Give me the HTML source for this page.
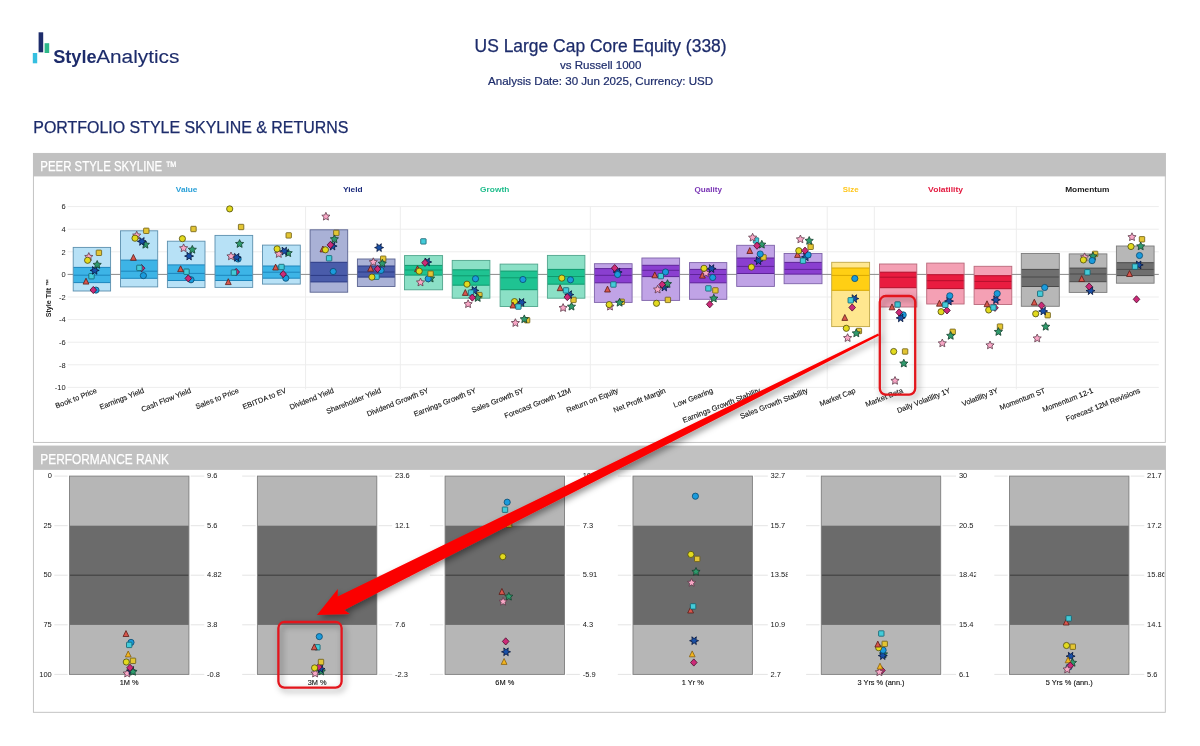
<!DOCTYPE html>
<html lang="en"><head><meta charset="utf-8"><title>Portfolio Style Skyline &amp; Returns</title>
<style>
html,body{margin:0;padding:0;background:#fff;}
body{width:1200px;height:746px;overflow:hidden;font-family:"Liberation Sans",sans-serif;}
svg{display:block;position:absolute;left:0;top:0;}
svg text{font-family:"Liberation Sans",sans-serif;}
.tk{font-size:7.5px;fill:#161616;}
.xl{font-size:7.4px;fill:#111;stroke:#111;stroke-width:0.12px;}
.cat{font-size:7.8px;font-weight:bold;}
.hd{font-size:14px;fill:#fff;}
</style></head><body>
<svg width="1200" height="746" viewBox="0 0 1200 746">
<defs>
<filter id="sh" x="-10%" y="-10%" width="130%" height="130%"><feDropShadow dx="2.5" dy="3" stdDeviation="3.2" flood-color="#000" flood-opacity="0.42"/></filter>
</defs>
<rect x="0" y="0" width="1200" height="746" fill="#fff"/>

<g id="logo">
<rect x="32.8" y="53" width="4.4" height="10.3" fill="#35bfe0"/>
<rect x="38.6" y="32.3" width="4.6" height="20" fill="#1d2c6b"/>
<rect x="44.6" y="43.2" width="4.6" height="9.8" fill="#2fb88a"/>
<text x="53.2" y="62.5" font-size="19.2" font-weight="bold" fill="#1d2c6b" textLength="43.4" lengthAdjust="spacingAndGlyphs">Style</text>
<text x="96.2" y="62.5" font-size="19.2" fill="#1d2c6b" stroke="#1d2c6b" stroke-width="0.12" textLength="83.2" lengthAdjust="spacingAndGlyphs">Analytics</text>
</g>
<text x="600.6" y="52" font-size="17.45" fill="#1d2c6b" stroke="#1d2c6b" stroke-width="0.25" text-anchor="middle">US Large Cap Core Equity (338)</text>
<text x="600.7" y="69.3" font-size="11.56" fill="#1d2c6b" stroke="#1d2c6b" stroke-width="0.2" text-anchor="middle">vs Russell 1000</text>
<text x="600.6" y="85.3" font-size="11.58" fill="#1d2c6b" stroke="#1d2c6b" stroke-width="0.2" text-anchor="middle">Analysis Date: 30 Jun 2025, Currency: USD</text>
<text x="33.3" y="133.3" font-size="15.95" fill="#1d2c6b" stroke="#1d2c6b" stroke-width="0.25">PORTFOLIO STYLE SKYLINE &amp; RETURNS</text>
<rect x="33.4" y="153.4" width="1131.8999999999999" height="289.0" fill="#fff" stroke="#bdbdbd" stroke-width="0.9"/>
<rect x="33" y="153.20000000000002" width="1132.8" height="23.2" fill="#c1c1c1"/>
<text class="hd" x="40.3" y="170.8" textLength="136.5" lengthAdjust="spacingAndGlyphs" stroke="#fff" stroke-width="0.25">PEER STYLE SKYLINE ™</text>
<rect x="33.4" y="446.1" width="1131.8999999999999" height="266.19999999999993" fill="#fff" stroke="#bdbdbd" stroke-width="0.9"/>
<rect x="33" y="445.90000000000003" width="1132.8" height="24" fill="#c1c1c1"/>
<text class="hd" x="40.3" y="463.5" textLength="128.7" lengthAdjust="spacingAndGlyphs" stroke="#fff" stroke-width="0.25">PERFORMANCE RANK</text>
<g id="grid" stroke="#ededed" stroke-width="1" fill="none">
<line x1="67.6" x2="1158.8" y1="206.6" y2="206.6"/>
<line x1="67.6" x2="1158.8" y1="229.2" y2="229.2"/>
<line x1="67.6" x2="1158.8" y1="251.8" y2="251.8"/>
<line x1="67.6" x2="1158.8" y1="297.0" y2="297.0"/>
<line x1="67.6" x2="1158.8" y1="319.6" y2="319.6"/>
<line x1="67.6" x2="1158.8" y1="342.2" y2="342.2"/>
<line x1="67.6" x2="1158.8" y1="364.8" y2="364.8"/>
<line x1="67.6" x2="1158.8" y1="387.4" y2="387.4"/>
<line x1="305.6" x2="305.6" y1="206.6" y2="389.4"/>
<line x1="400.3" x2="400.3" y1="206.6" y2="389.4"/>
<line x1="590.3" x2="590.3" y1="206.6" y2="389.4"/>
<line x1="827.2" x2="827.2" y1="206.6" y2="389.4"/>
<line x1="874.3" x2="874.3" y1="206.6" y2="389.4"/>
<line x1="1016.3" x2="1016.3" y1="206.6" y2="389.4"/>
</g>
<line x1="67.6" x2="1158.8" y1="274.4" y2="274.4" stroke="#8a8a8a" stroke-width="1"/>
<text class="tk" x="65.6" y="209.3" text-anchor="end">6</text>
<text class="tk" x="65.6" y="231.9" text-anchor="end">4</text>
<text class="tk" x="65.6" y="254.5" text-anchor="end">2</text>
<text class="tk" x="65.6" y="277.1" text-anchor="end">0</text>
<text class="tk" x="65.6" y="299.7" text-anchor="end">-2</text>
<text class="tk" x="65.6" y="322.3" text-anchor="end">-4</text>
<text class="tk" x="65.6" y="344.9" text-anchor="end">-6</text>
<text class="tk" x="65.6" y="367.5" text-anchor="end">-8</text>
<text class="tk" x="65.6" y="390.1" text-anchor="end">-10</text>
<text x="0" y="0" font-size="7.1" font-weight="bold" fill="#222" text-anchor="middle" transform="translate(51.4,298) rotate(-90)">Style Tilt ™</text>
<text class="cat" x="175.8" y="191.5" fill="#2aa0d8" textLength="21.7" lengthAdjust="spacingAndGlyphs">Value</text>
<text class="cat" x="343.0" y="191.5" fill="#1d2c7c" textLength="19.6" lengthAdjust="spacingAndGlyphs">Yield</text>
<text class="cat" x="480.1" y="191.5" fill="#1fbd8c" textLength="29.2" lengthAdjust="spacingAndGlyphs">Growth</text>
<text class="cat" x="694.5" y="191.5" fill="#7a35b5" textLength="27.5" lengthAdjust="spacingAndGlyphs">Quality</text>
<text class="cat" x="842.8" y="191.5" fill="#ffc61a" textLength="15.8" lengthAdjust="spacingAndGlyphs">Size</text>
<text class="cat" x="928.1" y="191.5" fill="#e3193f" textLength="35" lengthAdjust="spacingAndGlyphs">Volatility</text>
<text class="cat" x="1065.2" y="191.5" fill="#1a1a1a" textLength="44.3" lengthAdjust="spacingAndGlyphs">Momentum</text>
<g id="bars">
<rect x="73.2" y="247.4" width="37.4" height="43.6" fill="#b7e1f6"/>
<rect x="73.2" y="267.4" width="37.4" height="15.2" fill="#3db4e6"/>
<line x1="73.2" x2="110.6" y1="267.4" y2="267.4" stroke="#1c86bd" stroke-width="1"/>
<line x1="73.2" x2="110.6" y1="282.6" y2="282.6" stroke="#1c86bd" stroke-width="1"/>
<line x1="73.2" x2="110.6" y1="275.2" y2="275.2" stroke="#1c86bd" stroke-width="1"/>
<rect x="73.2" y="247.4" width="37.4" height="43.6" fill="none" stroke="#5b8fae" stroke-width="0.9"/>
<rect x="120.5" y="230.8" width="37.2" height="56.1" fill="#b7e1f6"/>
<rect x="120.5" y="260.1" width="37.2" height="18.2" fill="#3db4e6"/>
<line x1="120.5" x2="157.7" y1="260.1" y2="260.1" stroke="#1c86bd" stroke-width="1"/>
<line x1="120.5" x2="157.7" y1="278.3" y2="278.3" stroke="#1c86bd" stroke-width="1"/>
<line x1="120.5" x2="157.7" y1="271.2" y2="271.2" stroke="#1c86bd" stroke-width="1"/>
<rect x="120.5" y="230.8" width="37.2" height="56.1" fill="none" stroke="#5b8fae" stroke-width="0.9"/>
<rect x="167.4" y="241.2" width="37.6" height="46.4" fill="#b7e1f6"/>
<rect x="167.4" y="264.9" width="37.6" height="15.6" fill="#3db4e6"/>
<line x1="167.4" x2="205" y1="264.9" y2="264.9" stroke="#1c86bd" stroke-width="1"/>
<line x1="167.4" x2="205" y1="280.5" y2="280.5" stroke="#1c86bd" stroke-width="1"/>
<line x1="167.4" x2="205" y1="273.4" y2="273.4" stroke="#1c86bd" stroke-width="1"/>
<rect x="167.4" y="241.2" width="37.6" height="46.4" fill="none" stroke="#5b8fae" stroke-width="0.9"/>
<rect x="215" y="235.4" width="37.7" height="52.0" fill="#b7e1f6"/>
<rect x="215" y="266" width="37.7" height="14.5" fill="#3db4e6"/>
<line x1="215" x2="252.7" y1="266" y2="266" stroke="#1c86bd" stroke-width="1"/>
<line x1="215" x2="252.7" y1="280.5" y2="280.5" stroke="#1c86bd" stroke-width="1"/>
<line x1="215" x2="252.7" y1="275.3" y2="275.3" stroke="#1c86bd" stroke-width="1"/>
<rect x="215" y="235.4" width="37.7" height="52.0" fill="none" stroke="#5b8fae" stroke-width="0.9"/>
<rect x="262.5" y="245.1" width="37.8" height="39.0" fill="#b7e1f6"/>
<rect x="262.5" y="266" width="37.8" height="12.2" fill="#3db4e6"/>
<line x1="262.5" x2="300.3" y1="266" y2="266" stroke="#1c86bd" stroke-width="1"/>
<line x1="262.5" x2="300.3" y1="278.2" y2="278.2" stroke="#1c86bd" stroke-width="1"/>
<line x1="262.5" x2="300.3" y1="272.2" y2="272.2" stroke="#1c86bd" stroke-width="1"/>
<rect x="262.5" y="245.1" width="37.8" height="39.0" fill="none" stroke="#5b8fae" stroke-width="0.9"/>
<rect x="310.1" y="229.8" width="37.6" height="62.4" fill="#a9b1d6"/>
<rect x="310.1" y="262.3" width="37.6" height="19.6" fill="#4a5caa"/>
<line x1="310.1" x2="347.7" y1="262.3" y2="262.3" stroke="#2b3a85" stroke-width="1"/>
<line x1="310.1" x2="347.7" y1="281.9" y2="281.9" stroke="#2b3a85" stroke-width="1"/>
<line x1="310.1" x2="347.7" y1="275.4" y2="275.4" stroke="#2b3a85" stroke-width="1"/>
<rect x="310.1" y="229.8" width="37.6" height="62.4" fill="none" stroke="#5a6390" stroke-width="0.9"/>
<rect x="357.4" y="259" width="37.6" height="27.5" fill="#a9b1d6"/>
<rect x="357.4" y="266" width="37.6" height="11.1" fill="#4a5caa"/>
<line x1="357.4" x2="395" y1="266" y2="266" stroke="#2b3a85" stroke-width="1"/>
<line x1="357.4" x2="395" y1="277.1" y2="277.1" stroke="#2b3a85" stroke-width="1"/>
<line x1="357.4" x2="395" y1="272" y2="272" stroke="#2b3a85" stroke-width="1"/>
<rect x="357.4" y="259" width="37.6" height="27.5" fill="none" stroke="#5a6390" stroke-width="0.9"/>
<rect x="404.5" y="255.6" width="38.1" height="34.2" fill="#8be0c6"/>
<rect x="404.5" y="265.4" width="38.1" height="9.7" fill="#1fc392"/>
<line x1="404.5" x2="442.6" y1="265.4" y2="265.4" stroke="#0f9a6e" stroke-width="1"/>
<line x1="404.5" x2="442.6" y1="275.1" y2="275.1" stroke="#0f9a6e" stroke-width="1"/>
<line x1="404.5" x2="442.6" y1="270" y2="270" stroke="#0f9a6e" stroke-width="1"/>
<rect x="404.5" y="255.6" width="38.1" height="34.2" fill="none" stroke="#4fa58c" stroke-width="0.9"/>
<rect x="452.2" y="260.4" width="37.7" height="37.8" fill="#8be0c6"/>
<rect x="452.2" y="269.8" width="37.7" height="15.4" fill="#1fc392"/>
<line x1="452.2" x2="489.9" y1="269.8" y2="269.8" stroke="#0f9a6e" stroke-width="1"/>
<line x1="452.2" x2="489.9" y1="285.2" y2="285.2" stroke="#0f9a6e" stroke-width="1"/>
<line x1="452.2" x2="489.9" y1="275.8" y2="275.8" stroke="#0f9a6e" stroke-width="1"/>
<rect x="452.2" y="260.4" width="37.7" height="37.8" fill="none" stroke="#4fa58c" stroke-width="0.9"/>
<rect x="500.1" y="264.1" width="37.6" height="42.4" fill="#8be0c6"/>
<rect x="500.1" y="271.1" width="37.6" height="18.6" fill="#1fc392"/>
<line x1="500.1" x2="537.7" y1="271.1" y2="271.1" stroke="#0f9a6e" stroke-width="1"/>
<line x1="500.1" x2="537.7" y1="289.7" y2="289.7" stroke="#0f9a6e" stroke-width="1"/>
<line x1="500.1" x2="537.7" y1="277.8" y2="277.8" stroke="#0f9a6e" stroke-width="1"/>
<rect x="500.1" y="264.1" width="37.6" height="42.4" fill="none" stroke="#4fa58c" stroke-width="0.9"/>
<rect x="547.4" y="255.4" width="37.5" height="42.8" fill="#8be0c6"/>
<rect x="547.4" y="269.4" width="37.5" height="14.8" fill="#1fc392"/>
<line x1="547.4" x2="584.9" y1="269.4" y2="269.4" stroke="#0f9a6e" stroke-width="1"/>
<line x1="547.4" x2="584.9" y1="284.2" y2="284.2" stroke="#0f9a6e" stroke-width="1"/>
<line x1="547.4" x2="584.9" y1="276.5" y2="276.5" stroke="#0f9a6e" stroke-width="1"/>
<rect x="547.4" y="255.4" width="37.5" height="42.8" fill="none" stroke="#4fa58c" stroke-width="0.9"/>
<rect x="594.4" y="263.7" width="37.7" height="38.7" fill="#c0a3e6"/>
<rect x="594.4" y="268.6" width="37.7" height="14.2" fill="#8a3fd0"/>
<line x1="594.4" x2="632.1" y1="268.6" y2="268.6" stroke="#5e2399" stroke-width="1"/>
<line x1="594.4" x2="632.1" y1="282.8" y2="282.8" stroke="#5e2399" stroke-width="1"/>
<line x1="594.4" x2="632.1" y1="275.3" y2="275.3" stroke="#5e2399" stroke-width="1"/>
<rect x="594.4" y="263.7" width="37.7" height="38.7" fill="none" stroke="#7d62a8" stroke-width="0.9"/>
<rect x="641.9" y="258" width="37.7" height="42.4" fill="#c0a3e6"/>
<rect x="641.9" y="265.3" width="37.7" height="11.3" fill="#8a3fd0"/>
<line x1="641.9" x2="679.6" y1="265.3" y2="265.3" stroke="#5e2399" stroke-width="1"/>
<line x1="641.9" x2="679.6" y1="276.6" y2="276.6" stroke="#5e2399" stroke-width="1"/>
<line x1="641.9" x2="679.6" y1="270.3" y2="270.3" stroke="#5e2399" stroke-width="1"/>
<rect x="641.9" y="258" width="37.7" height="42.4" fill="none" stroke="#7d62a8" stroke-width="0.9"/>
<rect x="689.5" y="262.6" width="37.3" height="36.7" fill="#c0a3e6"/>
<rect x="689.5" y="269.4" width="37.3" height="13.4" fill="#8a3fd0"/>
<line x1="689.5" x2="726.8" y1="269.4" y2="269.4" stroke="#5e2399" stroke-width="1"/>
<line x1="689.5" x2="726.8" y1="282.8" y2="282.8" stroke="#5e2399" stroke-width="1"/>
<line x1="689.5" x2="726.8" y1="274.5" y2="274.5" stroke="#5e2399" stroke-width="1"/>
<rect x="689.5" y="262.6" width="37.3" height="36.7" fill="none" stroke="#7d62a8" stroke-width="0.9"/>
<rect x="736.7" y="245.3" width="37.7" height="41.1" fill="#c0a3e6"/>
<rect x="736.7" y="258" width="37.7" height="15.5" fill="#8a3fd0"/>
<line x1="736.7" x2="774.4" y1="258" y2="258" stroke="#5e2399" stroke-width="1"/>
<line x1="736.7" x2="774.4" y1="273.5" y2="273.5" stroke="#5e2399" stroke-width="1"/>
<line x1="736.7" x2="774.4" y1="266.4" y2="266.4" stroke="#5e2399" stroke-width="1"/>
<rect x="736.7" y="245.3" width="37.7" height="41.1" fill="none" stroke="#7d62a8" stroke-width="0.9"/>
<rect x="784.1" y="253.5" width="37.9" height="30.2" fill="#c0a3e6"/>
<rect x="784.1" y="262.4" width="37.9" height="11.7" fill="#8a3fd0"/>
<line x1="784.1" x2="822" y1="262.4" y2="262.4" stroke="#5e2399" stroke-width="1"/>
<line x1="784.1" x2="822" y1="274.1" y2="274.1" stroke="#5e2399" stroke-width="1"/>
<line x1="784.1" x2="822" y1="269.4" y2="269.4" stroke="#5e2399" stroke-width="1"/>
<rect x="784.1" y="253.5" width="37.9" height="30.2" fill="none" stroke="#7d62a8" stroke-width="0.9"/>
<rect x="831.7" y="262.3" width="37.9" height="64.3" fill="#ffe78f"/>
<rect x="831.7" y="268" width="37.9" height="22.3" fill="#ffcf14"/>
<line x1="831.7" x2="869.6" y1="268" y2="268" stroke="#d9a800" stroke-width="1"/>
<line x1="831.7" x2="869.6" y1="290.3" y2="290.3" stroke="#d9a800" stroke-width="1"/>
<line x1="831.7" x2="869.6" y1="275.4" y2="275.4" stroke="#d9a800" stroke-width="1"/>
<rect x="831.7" y="262.3" width="37.9" height="64.3" fill="none" stroke="#bfa646" stroke-width="0.9"/>
<rect x="879.5" y="264" width="37.3" height="43.0" fill="#f4a0b4"/>
<rect x="879.5" y="272.2" width="37.3" height="15.5" fill="#e91c40"/>
<line x1="879.5" x2="916.8" y1="272.2" y2="272.2" stroke="#b30f2c" stroke-width="1"/>
<line x1="879.5" x2="916.8" y1="287.7" y2="287.7" stroke="#b30f2c" stroke-width="1"/>
<line x1="879.5" x2="916.8" y1="277.2" y2="277.2" stroke="#b30f2c" stroke-width="1"/>
<rect x="879.5" y="264" width="37.3" height="43.0" fill="none" stroke="#b8687a" stroke-width="0.9"/>
<rect x="926.7" y="263.1" width="37.4" height="40.9" fill="#f4a0b4"/>
<rect x="926.7" y="274.7" width="37.4" height="13.9" fill="#e91c40"/>
<line x1="926.7" x2="964.1" y1="274.7" y2="274.7" stroke="#b30f2c" stroke-width="1"/>
<line x1="926.7" x2="964.1" y1="288.6" y2="288.6" stroke="#b30f2c" stroke-width="1"/>
<line x1="926.7" x2="964.1" y1="280.7" y2="280.7" stroke="#b30f2c" stroke-width="1"/>
<rect x="926.7" y="263.1" width="37.4" height="40.9" fill="none" stroke="#b8687a" stroke-width="0.9"/>
<rect x="974.1" y="266.3" width="37.7" height="38.2" fill="#f4a0b4"/>
<rect x="974.1" y="275.7" width="37.7" height="13.0" fill="#e91c40"/>
<line x1="974.1" x2="1011.8" y1="275.7" y2="275.7" stroke="#b30f2c" stroke-width="1"/>
<line x1="974.1" x2="1011.8" y1="288.7" y2="288.7" stroke="#b30f2c" stroke-width="1"/>
<line x1="974.1" x2="1011.8" y1="281.4" y2="281.4" stroke="#b30f2c" stroke-width="1"/>
<rect x="974.1" y="266.3" width="37.7" height="38.2" fill="none" stroke="#b8687a" stroke-width="0.9"/>
<rect x="1021.3" y="253.5" width="38.0" height="52.8" fill="#b7b7b7"/>
<rect x="1021.3" y="269.4" width="38.0" height="17.1" fill="#6f6f6f"/>
<line x1="1021.3" x2="1059.3" y1="269.4" y2="269.4" stroke="#4a4a4a" stroke-width="1"/>
<line x1="1021.3" x2="1059.3" y1="286.5" y2="286.5" stroke="#4a4a4a" stroke-width="1"/>
<line x1="1021.3" x2="1059.3" y1="277" y2="277" stroke="#4a4a4a" stroke-width="1"/>
<rect x="1021.3" y="253.5" width="38.0" height="52.8" fill="none" stroke="#7c7c7c" stroke-width="0.9"/>
<rect x="1069.2" y="253.9" width="37.7" height="38.5" fill="#b7b7b7"/>
<rect x="1069.2" y="268.1" width="37.7" height="13.6" fill="#6f6f6f"/>
<line x1="1069.2" x2="1106.9" y1="268.1" y2="268.1" stroke="#4a4a4a" stroke-width="1"/>
<line x1="1069.2" x2="1106.9" y1="281.7" y2="281.7" stroke="#4a4a4a" stroke-width="1"/>
<line x1="1069.2" x2="1106.9" y1="274" y2="274" stroke="#4a4a4a" stroke-width="1"/>
<rect x="1069.2" y="253.9" width="37.7" height="38.5" fill="none" stroke="#7c7c7c" stroke-width="0.9"/>
<rect x="1116.4" y="246" width="37.7" height="37.2" fill="#b7b7b7"/>
<rect x="1116.4" y="262.7" width="37.7" height="12.9" fill="#6f6f6f"/>
<line x1="1116.4" x2="1154.1" y1="262.7" y2="262.7" stroke="#4a4a4a" stroke-width="1"/>
<line x1="1116.4" x2="1154.1" y1="275.6" y2="275.6" stroke="#4a4a4a" stroke-width="1"/>
<line x1="1116.4" x2="1154.1" y1="269.4" y2="269.4" stroke="#4a4a4a" stroke-width="1"/>
<rect x="1116.4" y="246" width="37.7" height="37.2" fill="none" stroke="#7c7c7c" stroke-width="0.9"/>
</g>
<g id="xlabels">
<text class="xl" text-anchor="end" transform="translate(97.4,392.5) rotate(-21.5)">Book to Price</text>
<text class="xl" text-anchor="end" transform="translate(144.6,392.5) rotate(-21.5)">Earnings Yield</text>
<text class="xl" text-anchor="end" transform="translate(191.7,392.5) rotate(-21.5)">Cash Flow Yield</text>
<text class="xl" text-anchor="end" transform="translate(239.3,392.5) rotate(-21.5)">Sales to Price</text>
<text class="xl" text-anchor="end" transform="translate(286.9,392.5) rotate(-21.5)">EBITDA to EV</text>
<text class="xl" text-anchor="end" transform="translate(334.4,392.5) rotate(-21.5)">Dividend Yield</text>
<text class="xl" text-anchor="end" transform="translate(381.7,392.5) rotate(-21.5)">Shareholder Yield</text>
<text class="xl" text-anchor="end" transform="translate(429.1,392.5) rotate(-21.5)">Dividend Growth 5Y</text>
<text class="xl" text-anchor="end" transform="translate(476.5,392.5) rotate(-21.5)">Earnings Growth 5Y</text>
<text class="xl" text-anchor="end" transform="translate(524.4,392.5) rotate(-21.5)">Sales Growth 5Y</text>
<text class="xl" text-anchor="end" transform="translate(571.6,392.5) rotate(-21.5)">Forecast Growth 12M</text>
<text class="xl" text-anchor="end" transform="translate(618.8,392.5) rotate(-21.5)">Return on Equity</text>
<text class="xl" text-anchor="end" transform="translate(666.2,392.5) rotate(-21.5)">Net Profit Margin</text>
<text class="xl" text-anchor="end" transform="translate(713.6,392.5) rotate(-21.5)">Low Gearing</text>
<text class="xl" text-anchor="end" transform="translate(761.0,392.5) rotate(-21.5)">Earnings Growth Stability</text>
<text class="xl" text-anchor="end" transform="translate(808.5,392.5) rotate(-21.5)">Sales Growth Stability</text>
<text class="xl" text-anchor="end" transform="translate(856.2,392.5) rotate(-21.5)">Market Cap</text>
<text class="xl" text-anchor="end" transform="translate(903.6,392.5) rotate(-21.5)">Market Beta</text>
<text class="xl" text-anchor="end" transform="translate(950.9,392.5) rotate(-21.5)">Daily Volatility 1Y</text>
<text class="xl" text-anchor="end" transform="translate(998.5,392.5) rotate(-21.5)">Volatility 3Y</text>
<text class="xl" text-anchor="end" transform="translate(1045.8,392.5) rotate(-21.5)">Momentum ST</text>
<text class="xl" text-anchor="end" transform="translate(1093.6,392.5) rotate(-21.5)">Momentum 12-1</text>
<text class="xl" text-anchor="end" transform="translate(1140.8,392.5) rotate(-21.5)">Forecast 12M Revisions</text>
</g>
<g id="markers">
<circle cx="96" cy="290.1" r="3.1" fill="#1a9bdc" stroke="#0b4a6e" stroke-width="0.8"/>
<polygon points="93.30,286.40 96.60,290.00 93.30,293.60 90.00,290.00" fill="#cc2a78" stroke="#4a0a2a" stroke-width="0.8" stroke-linejoin="round"/>
<polygon points="86.00,278.20 88.90,284.10 83.10,284.10" fill="#d9564c" stroke="#5a1c18" stroke-width="0.8" stroke-linejoin="round"/>
<rect x="88.80" y="273.50" width="5.4" height="5.4" rx="0.6" fill="#43cbd9" stroke="#14606c" stroke-width="0.8"/>
<polygon points="99.20,270.40 96.52,271.45 96.95,274.30 94.70,272.50 92.45,274.30 92.88,271.45 90.20,270.40 92.88,269.35 92.45,266.50 94.70,268.30 96.95,266.50 96.52,269.35" fill="#1850a8" stroke="#06143a" stroke-width="0.8"/>
<polygon points="97.20,260.50 98.40,263.14 101.29,263.47 99.15,265.43 99.73,268.28 97.20,266.85 94.67,268.28 95.25,265.43 93.11,263.47 96.00,263.14" fill="#2f9a6c" stroke="#143f2c" stroke-width="0.8"/>
<polygon points="88.80,252.60 90.00,255.24 92.89,255.57 90.75,257.53 91.33,260.38 88.80,258.95 86.27,260.38 86.85,257.53 84.71,255.57 87.60,255.24" fill="#f8a7c6" stroke="#5e3a4a" stroke-width="0.8"/>
<circle cx="87.6" cy="260.3" r="3.1" fill="#e2da1e" stroke="#4c4a0e" stroke-width="0.8"/>
<rect x="96.20" y="250.10" width="5.4" height="5.4" rx="0.6" fill="#e3c534" stroke="#6b5c14" stroke-width="0.8"/>
<circle cx="143.4" cy="275.6" r="3.1" fill="#1a9bdc" stroke="#0b4a6e" stroke-width="0.8"/>
<polygon points="141.60,264.60 144.90,268.20 141.60,271.80 138.30,268.20" fill="#cc2a78" stroke="#4a0a2a" stroke-width="0.8" stroke-linejoin="round"/>
<rect x="136.70" y="265.20" width="5.4" height="5.4" rx="0.6" fill="#43cbd9" stroke="#14606c" stroke-width="0.8"/>
<polygon points="133.40,254.40 136.30,260.30 130.50,260.30" fill="#d9564c" stroke="#5a1c18" stroke-width="0.8" stroke-linejoin="round"/>
<polygon points="145.40,240.40 146.60,243.04 149.49,243.37 147.35,245.33 147.93,248.18 145.40,246.75 142.87,248.18 143.45,245.33 141.31,243.37 144.20,243.04" fill="#2f9a6c" stroke="#143f2c" stroke-width="0.8"/>
<polygon points="146.40,241.40 143.72,242.45 144.15,245.30 141.90,243.50 139.65,245.30 140.08,242.45 137.40,241.40 140.08,240.35 139.65,237.50 141.90,239.30 144.15,237.50 143.72,240.35" fill="#1850a8" stroke="#06143a" stroke-width="0.8"/>
<polygon points="136.70,231.20 137.90,233.84 140.79,234.17 138.65,236.13 139.23,238.98 136.70,237.55 134.17,238.98 134.75,236.13 132.61,234.17 135.50,233.84" fill="#f8a7c6" stroke="#5e3a4a" stroke-width="0.8"/>
<circle cx="135" cy="238.2" r="3.1" fill="#e2da1e" stroke="#4c4a0e" stroke-width="0.8"/>
<rect x="143.60" y="228.10" width="5.4" height="5.4" rx="0.6" fill="#e3c534" stroke="#6b5c14" stroke-width="0.8"/>
<circle cx="191" cy="279.8" r="3.1" fill="#1a9bdc" stroke="#0b4a6e" stroke-width="0.8"/>
<polygon points="188.30,274.80 191.60,278.40 188.30,282.00 185.00,278.40" fill="#cc2a78" stroke="#4a0a2a" stroke-width="0.8" stroke-linejoin="round"/>
<rect x="183.80" y="269.00" width="5.4" height="5.4" rx="0.6" fill="#43cbd9" stroke="#14606c" stroke-width="0.8"/>
<polygon points="180.60,265.80 183.50,271.70 177.70,271.70" fill="#d9564c" stroke="#5a1c18" stroke-width="0.8" stroke-linejoin="round"/>
<polygon points="193.60,256.10 190.92,257.15 191.35,260.00 189.10,258.20 186.85,260.00 187.28,257.15 184.60,256.10 187.28,255.05 186.85,252.20 189.10,254.00 191.35,252.20 190.92,255.05" fill="#1850a8" stroke="#06143a" stroke-width="0.8"/>
<polygon points="192.30,245.40 193.50,248.04 196.39,248.37 194.25,250.33 194.83,253.18 192.30,251.75 189.77,253.18 190.35,250.33 188.21,248.37 191.10,248.04" fill="#2f9a6c" stroke="#143f2c" stroke-width="0.8"/>
<polygon points="183.60,243.90 184.80,246.54 187.69,246.87 185.55,248.83 186.13,251.68 183.60,250.25 181.07,251.68 181.65,248.83 179.51,246.87 182.40,246.54" fill="#f8a7c6" stroke="#5e3a4a" stroke-width="0.8"/>
<circle cx="182.4" cy="238.7" r="3.1" fill="#e2da1e" stroke="#4c4a0e" stroke-width="0.8"/>
<rect x="190.80" y="226.30" width="5.4" height="5.4" rx="0.6" fill="#e3c534" stroke="#6b5c14" stroke-width="0.8"/>
<polygon points="228.30,278.70 231.20,284.60 225.40,284.60" fill="#d9564c" stroke="#5a1c18" stroke-width="0.8" stroke-linejoin="round"/>
<polygon points="236.20,268.40 239.50,272.00 236.20,275.60 232.90,272.00" fill="#cc2a78" stroke="#4a0a2a" stroke-width="0.8" stroke-linejoin="round"/>
<rect x="231.20" y="269.90" width="5.4" height="5.4" rx="0.6" fill="#43cbd9" stroke="#14606c" stroke-width="0.8"/>
<circle cx="238.1" cy="259" r="3.1" fill="#1a9bdc" stroke="#0b4a6e" stroke-width="0.8"/>
<polygon points="241.20,257.30 238.52,258.35 238.95,261.20 236.70,259.40 234.45,261.20 234.88,258.35 232.20,257.30 234.88,256.25 234.45,253.40 236.70,255.20 238.95,253.40 238.52,256.25" fill="#1850a8" stroke="#06143a" stroke-width="0.8"/>
<polygon points="231.00,252.00 232.20,254.64 235.09,254.97 232.95,256.93 233.53,259.78 231.00,258.35 228.47,259.78 229.05,256.93 226.91,254.97 229.80,254.64" fill="#f8a7c6" stroke="#5e3a4a" stroke-width="0.8"/>
<polygon points="239.60,239.60 240.80,242.24 243.69,242.57 241.55,244.53 242.13,247.38 239.60,245.95 237.07,247.38 237.65,244.53 235.51,242.57 238.40,242.24" fill="#2f9a6c" stroke="#143f2c" stroke-width="0.8"/>
<rect x="238.40" y="224.30" width="5.4" height="5.4" rx="0.6" fill="#e3c534" stroke="#6b5c14" stroke-width="0.8"/>
<circle cx="229.7" cy="208.9" r="3.1" fill="#e2da1e" stroke="#4c4a0e" stroke-width="0.8"/>
<circle cx="285.8" cy="278.2" r="3.1" fill="#1a9bdc" stroke="#0b4a6e" stroke-width="0.8"/>
<polygon points="283.20,270.50 286.50,274.10 283.20,277.70 279.90,274.10" fill="#cc2a78" stroke="#4a0a2a" stroke-width="0.8" stroke-linejoin="round"/>
<polygon points="275.60,264.10 278.50,270.00 272.70,270.00" fill="#d9564c" stroke="#5a1c18" stroke-width="0.8" stroke-linejoin="round"/>
<rect x="278.80" y="264.30" width="5.4" height="5.4" rx="0.6" fill="#43cbd9" stroke="#14606c" stroke-width="0.8"/>
<polygon points="288.20,248.80 289.40,251.44 292.29,251.77 290.15,253.73 290.73,256.58 288.20,255.15 285.67,256.58 286.25,253.73 284.11,251.77 287.00,251.44" fill="#2f9a6c" stroke="#143f2c" stroke-width="0.8"/>
<polygon points="288.80,251.10 286.12,252.15 286.55,255.00 284.30,253.20 282.05,255.00 282.48,252.15 279.80,251.10 282.48,250.05 282.05,247.20 284.30,249.00 286.55,247.20 286.12,250.05" fill="#1850a8" stroke="#06143a" stroke-width="0.8"/>
<polygon points="278.80,249.60 280.00,252.24 282.89,252.57 280.75,254.53 281.33,257.38 278.80,255.95 276.27,257.38 276.85,254.53 274.71,252.57 277.60,252.24" fill="#f8a7c6" stroke="#5e3a4a" stroke-width="0.8"/>
<circle cx="277.1" cy="248.9" r="3.1" fill="#e2da1e" stroke="#4c4a0e" stroke-width="0.8"/>
<rect x="286.00" y="232.70" width="5.4" height="5.4" rx="0.6" fill="#e3c534" stroke="#6b5c14" stroke-width="0.8"/>
<circle cx="333.2" cy="271.5" r="3.1" fill="#1a9bdc" stroke="#0b4a6e" stroke-width="0.8"/>
<rect x="326.40" y="255.60" width="5.4" height="5.4" rx="0.6" fill="#43cbd9" stroke="#14606c" stroke-width="0.8"/>
<polygon points="322.90,246.00 325.80,251.90 320.00,251.90" fill="#d9564c" stroke="#5a1c18" stroke-width="0.8" stroke-linejoin="round"/>
<circle cx="325.4" cy="249.8" r="3.1" fill="#e2da1e" stroke="#4c4a0e" stroke-width="0.8"/>
<polygon points="337.10,246.10 334.42,247.15 334.85,250.00 332.60,248.20 330.35,250.00 330.78,247.15 328.10,246.10 330.78,245.05 330.35,242.20 332.60,244.00 334.85,242.20 334.42,245.05" fill="#1850a8" stroke="#06143a" stroke-width="0.8"/>
<polygon points="330.40,241.30 333.70,244.90 330.40,248.50 327.10,244.90" fill="#cc2a78" stroke="#4a0a2a" stroke-width="0.8" stroke-linejoin="round"/>
<rect x="333.60" y="230.20" width="5.4" height="5.4" rx="0.6" fill="#e3c534" stroke="#6b5c14" stroke-width="0.8"/>
<polygon points="334.40,234.90 335.60,237.54 338.49,237.87 336.35,239.83 336.93,242.68 334.40,241.25 331.87,242.68 332.45,239.83 330.31,237.87 333.20,237.54" fill="#2f9a6c" stroke="#143f2c" stroke-width="0.8"/>
<polygon points="325.90,212.30 327.10,214.94 329.99,215.27 327.85,217.23 328.43,220.08 325.90,218.65 323.37,220.08 323.95,217.23 321.81,215.27 324.70,214.94" fill="#f8a7c6" stroke="#5e3a4a" stroke-width="0.8"/>
<rect x="373.80" y="274.00" width="5.4" height="5.4" rx="0.6" fill="#43cbd9" stroke="#14606c" stroke-width="0.8"/>
<circle cx="371.9" cy="277.1" r="3.1" fill="#e2da1e" stroke="#4c4a0e" stroke-width="0.8"/>
<circle cx="381" cy="270.4" r="3.1" fill="#1a9bdc" stroke="#0b4a6e" stroke-width="0.8"/>
<polygon points="370.60,265.30 373.50,271.20 367.70,271.20" fill="#d9564c" stroke="#5a1c18" stroke-width="0.8" stroke-linejoin="round"/>
<polygon points="377.60,265.40 380.90,269.00 377.60,272.60 374.30,269.00" fill="#cc2a78" stroke="#4a0a2a" stroke-width="0.8" stroke-linejoin="round"/>
<rect x="380.50" y="256.00" width="5.4" height="5.4" rx="0.6" fill="#e3c534" stroke="#6b5c14" stroke-width="0.8"/>
<polygon points="382.30,259.30 383.50,261.94 386.39,262.27 384.25,264.23 384.83,267.08 382.30,265.65 379.77,267.08 380.35,264.23 378.21,262.27 381.10,261.94" fill="#2f9a6c" stroke="#143f2c" stroke-width="0.8"/>
<polygon points="373.30,257.80 374.50,260.44 377.39,260.77 375.25,262.73 375.83,265.58 373.30,264.15 370.77,265.58 371.35,262.73 369.21,260.77 372.10,260.44" fill="#f8a7c6" stroke="#5e3a4a" stroke-width="0.8"/>
<polygon points="383.60,247.60 380.92,248.65 381.35,251.50 379.10,249.70 376.85,251.50 377.28,248.65 374.60,247.60 377.28,246.55 376.85,243.70 379.10,245.50 381.35,243.70 380.92,246.55" fill="#1850a8" stroke="#06143a" stroke-width="0.8"/>
<polygon points="420.50,278.10 421.70,280.74 424.59,281.07 422.45,283.03 423.03,285.88 420.50,284.45 417.97,285.88 418.55,283.03 416.41,281.07 419.30,280.74" fill="#f8a7c6" stroke="#5e3a4a" stroke-width="0.8"/>
<polygon points="430.60,274.20 431.80,276.84 434.69,277.17 432.55,279.13 433.13,281.98 430.60,280.55 428.07,281.98 428.65,279.13 426.51,277.17 429.40,276.84" fill="#2f9a6c" stroke="#143f2c" stroke-width="0.8"/>
<circle cx="428.2" cy="278.8" r="3.1" fill="#1a9bdc" stroke="#0b4a6e" stroke-width="0.8"/>
<rect x="427.90" y="271.00" width="5.4" height="5.4" rx="0.6" fill="#e3c534" stroke="#6b5c14" stroke-width="0.8"/>
<polygon points="417.50,265.80 420.40,271.70 414.60,271.70" fill="#d9564c" stroke="#5a1c18" stroke-width="0.8" stroke-linejoin="round"/>
<circle cx="419.2" cy="271.2" r="3.1" fill="#e2da1e" stroke="#4c4a0e" stroke-width="0.8"/>
<polygon points="431.70,262.00 429.02,263.05 429.45,265.90 427.20,264.10 424.95,265.90 425.38,263.05 422.70,262.00 425.38,260.95 424.95,258.10 427.20,259.90 429.45,258.10 429.02,260.95" fill="#1850a8" stroke="#06143a" stroke-width="0.8"/>
<polygon points="425.00,259.20 428.30,262.80 425.00,266.40 421.70,262.80" fill="#cc2a78" stroke="#4a0a2a" stroke-width="0.8" stroke-linejoin="round"/>
<rect x="420.70" y="238.70" width="5.4" height="5.4" rx="0.6" fill="#43cbd9" stroke="#14606c" stroke-width="0.8"/>
<polygon points="468.10,299.80 469.30,302.44 472.19,302.77 470.05,304.73 470.63,307.58 468.10,306.15 465.57,307.58 466.15,304.73 464.01,302.77 466.90,302.44" fill="#f8a7c6" stroke="#5e3a4a" stroke-width="0.8"/>
<rect x="476.70" y="292.40" width="5.4" height="5.4" rx="0.6" fill="#e3c534" stroke="#6b5c14" stroke-width="0.8"/>
<polygon points="477.70,293.60 478.90,296.24 481.79,296.57 479.65,298.53 480.23,301.38 477.70,299.95 475.17,301.38 475.75,298.53 473.61,296.57 476.50,296.24" fill="#2f9a6c" stroke="#143f2c" stroke-width="0.8"/>
<polygon points="478.80,290.40 476.12,291.45 476.55,294.30 474.30,292.50 472.05,294.30 472.48,291.45 469.80,290.40 472.48,289.35 472.05,286.50 474.30,288.30 476.55,286.50 476.12,289.35" fill="#1850a8" stroke="#06143a" stroke-width="0.8"/>
<polygon points="465.30,289.50 468.20,295.40 462.40,295.40" fill="#d9564c" stroke="#5a1c18" stroke-width="0.8" stroke-linejoin="round"/>
<rect x="468.30" y="289.90" width="5.4" height="5.4" rx="0.6" fill="#43cbd9" stroke="#14606c" stroke-width="0.8"/>
<polygon points="472.30,294.00 475.60,297.60 472.30,301.20 469.00,297.60" fill="#cc2a78" stroke="#4a0a2a" stroke-width="0.8" stroke-linejoin="round"/>
<circle cx="467" cy="284.2" r="3.1" fill="#e2da1e" stroke="#4c4a0e" stroke-width="0.8"/>
<circle cx="475.5" cy="278.8" r="3.1" fill="#1a9bdc" stroke="#0b4a6e" stroke-width="0.8"/>
<polygon points="515.40,318.70 516.60,321.34 519.49,321.67 517.35,323.63 517.93,326.48 515.40,325.05 512.87,326.48 513.45,323.63 511.31,321.67 514.20,321.34" fill="#f8a7c6" stroke="#5e3a4a" stroke-width="0.8"/>
<rect x="524.40" y="317.50" width="5.4" height="5.4" rx="0.6" fill="#e3c534" stroke="#6b5c14" stroke-width="0.8"/>
<polygon points="524.30,314.90 525.50,317.54 528.39,317.87 526.25,319.83 526.83,322.68 524.30,321.25 521.77,322.68 522.35,319.83 520.21,317.87 523.10,317.54" fill="#2f9a6c" stroke="#143f2c" stroke-width="0.8"/>
<polygon points="520.00,300.20 523.30,303.80 520.00,307.40 516.70,303.80" fill="#cc2a78" stroke="#4a0a2a" stroke-width="0.8" stroke-linejoin="round"/>
<polygon points="526.10,302.40 523.42,303.45 523.85,306.30 521.60,304.50 519.35,306.30 519.78,303.45 517.10,302.40 519.78,301.35 519.35,298.50 521.60,300.30 523.85,298.50 523.42,301.35" fill="#1850a8" stroke="#06143a" stroke-width="0.8"/>
<circle cx="514.5" cy="301.6" r="3.1" fill="#e2da1e" stroke="#4c4a0e" stroke-width="0.8"/>
<polygon points="512.90,302.10 515.80,308.00 510.00,308.00" fill="#d9564c" stroke="#5a1c18" stroke-width="0.8" stroke-linejoin="round"/>
<rect x="515.70" y="303.90" width="5.4" height="5.4" rx="0.6" fill="#43cbd9" stroke="#14606c" stroke-width="0.8"/>
<circle cx="522.9" cy="279.5" r="3.1" fill="#1a9bdc" stroke="#0b4a6e" stroke-width="0.8"/>
<polygon points="563.10,303.60 564.30,306.24 567.19,306.57 565.05,308.53 565.63,311.38 563.10,309.95 560.57,311.38 561.15,308.53 559.01,306.57 561.90,306.24" fill="#f8a7c6" stroke="#5e3a4a" stroke-width="0.8"/>
<polygon points="571.50,302.30 572.70,304.94 575.59,305.27 573.45,307.23 574.03,310.08 571.50,308.65 568.97,310.08 569.55,307.23 567.41,305.27 570.30,304.94" fill="#2f9a6c" stroke="#143f2c" stroke-width="0.8"/>
<rect x="570.80" y="297.20" width="5.4" height="5.4" rx="0.6" fill="#e3c534" stroke="#6b5c14" stroke-width="0.8"/>
<polygon points="573.80,294.60 571.12,295.65 571.55,298.50 569.30,296.70 567.05,298.50 567.48,295.65 564.80,294.60 567.48,293.55 567.05,290.70 569.30,292.50 571.55,290.70 571.12,293.55" fill="#1850a8" stroke="#06143a" stroke-width="0.8"/>
<polygon points="567.30,293.50 570.60,297.10 567.30,300.70 564.00,297.10" fill="#cc2a78" stroke="#4a0a2a" stroke-width="0.8" stroke-linejoin="round"/>
<polygon points="560.10,284.80 563.00,290.70 557.20,290.70" fill="#d9564c" stroke="#5a1c18" stroke-width="0.8" stroke-linejoin="round"/>
<rect x="563.30" y="287.70" width="5.4" height="5.4" rx="0.6" fill="#43cbd9" stroke="#14606c" stroke-width="0.8"/>
<circle cx="570.5" cy="279.8" r="3.1" fill="#1a9bdc" stroke="#0b4a6e" stroke-width="0.8"/>
<circle cx="561.8" cy="278.1" r="3.1" fill="#e2da1e" stroke="#4c4a0e" stroke-width="0.8"/>
<polygon points="610.00,302.30 611.20,304.94 614.09,305.27 611.95,307.23 612.53,310.08 610.00,308.65 607.47,310.08 608.05,307.23 605.91,305.27 608.80,304.94" fill="#f8a7c6" stroke="#5e3a4a" stroke-width="0.8"/>
<circle cx="609.2" cy="304.6" r="3.1" fill="#e2da1e" stroke="#4c4a0e" stroke-width="0.8"/>
<rect x="619.00" y="299.10" width="5.4" height="5.4" rx="0.6" fill="#e3c534" stroke="#6b5c14" stroke-width="0.8"/>
<polygon points="619.60,298.40 620.80,301.04 623.69,301.37 621.55,303.33 622.13,306.18 619.60,304.75 617.07,306.18 617.65,303.33 615.51,301.37 618.40,301.04" fill="#2f9a6c" stroke="#143f2c" stroke-width="0.8"/>
<polygon points="607.50,286.10 610.40,292.00 604.60,292.00" fill="#d9564c" stroke="#5a1c18" stroke-width="0.8" stroke-linejoin="round"/>
<rect x="610.70" y="281.80" width="5.4" height="5.4" rx="0.6" fill="#43cbd9" stroke="#14606c" stroke-width="0.8"/>
<polygon points="622.10,272.00 619.42,273.05 619.85,275.90 617.60,274.10 615.35,275.90 615.78,273.05 613.10,272.00 615.78,270.95 615.35,268.10 617.60,269.90 619.85,268.10 619.42,270.95" fill="#1850a8" stroke="#06143a" stroke-width="0.8"/>
<circle cx="617.6" cy="274.5" r="3.1" fill="#1a9bdc" stroke="#0b4a6e" stroke-width="0.8"/>
<polygon points="614.70,264.50 618.00,268.10 614.70,271.70 611.40,268.10" fill="#cc2a78" stroke="#4a0a2a" stroke-width="0.8" stroke-linejoin="round"/>
<circle cx="656.5" cy="303.3" r="3.1" fill="#e2da1e" stroke="#4c4a0e" stroke-width="0.8"/>
<rect x="665.20" y="297.20" width="5.4" height="5.4" rx="0.6" fill="#e3c534" stroke="#6b5c14" stroke-width="0.8"/>
<polygon points="668.80,287.00 666.12,288.05 666.55,290.90 664.30,289.10 662.05,290.90 662.48,288.05 659.80,287.00 662.48,285.95 662.05,283.10 664.30,284.90 666.55,283.10 666.12,285.95" fill="#1850a8" stroke="#06143a" stroke-width="0.8"/>
<polygon points="667.50,279.70 668.70,282.34 671.59,282.67 669.45,284.63 670.03,287.48 667.50,286.05 664.97,287.48 665.55,284.63 663.41,282.67 666.30,282.34" fill="#2f9a6c" stroke="#143f2c" stroke-width="0.8"/>
<polygon points="662.20,280.90 665.50,284.50 662.20,288.10 658.90,284.50" fill="#cc2a78" stroke="#4a0a2a" stroke-width="0.8" stroke-linejoin="round"/>
<polygon points="657.60,285.20 658.80,287.84 661.69,288.17 659.55,290.13 660.13,292.98 657.60,291.55 655.07,292.98 655.65,290.13 653.51,288.17 656.40,287.84" fill="#f8a7c6" stroke="#5e3a4a" stroke-width="0.8"/>
<polygon points="654.80,271.90 657.70,277.80 651.90,277.80" fill="#d9564c" stroke="#5a1c18" stroke-width="0.8" stroke-linejoin="round"/>
<rect x="658.10" y="273.40" width="5.4" height="5.4" rx="0.6" fill="#43cbd9" stroke="#14606c" stroke-width="0.8"/>
<circle cx="665.5" cy="272" r="3.1" fill="#1a9bdc" stroke="#0b4a6e" stroke-width="0.8"/>
<polygon points="709.70,300.70 713.00,304.30 709.70,307.90 706.40,304.30" fill="#cc2a78" stroke="#4a0a2a" stroke-width="0.8" stroke-linejoin="round"/>
<polygon points="713.80,294.20 715.00,296.84 717.89,297.17 715.75,299.13 716.33,301.98 713.80,300.55 711.27,301.98 711.85,299.13 709.71,297.17 712.60,296.84" fill="#2f9a6c" stroke="#143f2c" stroke-width="0.8"/>
<rect x="712.70" y="287.70" width="5.4" height="5.4" rx="0.6" fill="#e3c534" stroke="#6b5c14" stroke-width="0.8"/>
<rect x="705.70" y="285.70" width="5.4" height="5.4" rx="0.6" fill="#43cbd9" stroke="#14606c" stroke-width="0.8"/>
<circle cx="712.7" cy="277.5" r="3.1" fill="#1a9bdc" stroke="#0b4a6e" stroke-width="0.8"/>
<polygon points="702.40,272.20 705.30,278.10 699.50,278.10" fill="#d9564c" stroke="#5a1c18" stroke-width="0.8" stroke-linejoin="round"/>
<polygon points="705.90,268.80 707.10,271.44 709.99,271.77 707.85,273.73 708.43,276.58 705.90,275.15 703.37,276.58 703.95,273.73 701.81,271.77 704.70,271.44" fill="#f8a7c6" stroke="#5e3a4a" stroke-width="0.8"/>
<polygon points="716.10,268.60 713.42,269.65 713.85,272.50 711.60,270.70 709.35,272.50 709.78,269.65 707.10,268.60 709.78,267.55 709.35,264.70 711.60,266.50 713.85,264.70 713.42,267.55" fill="#1850a8" stroke="#06143a" stroke-width="0.8"/>
<circle cx="704" cy="268.3" r="3.1" fill="#e2da1e" stroke="#4c4a0e" stroke-width="0.8"/>
<circle cx="751.4" cy="267.1" r="3.1" fill="#e2da1e" stroke="#4c4a0e" stroke-width="0.8"/>
<polygon points="763.10,260.70 760.42,261.75 760.85,264.60 758.60,262.80 756.35,264.60 756.78,261.75 754.10,260.70 756.78,259.65 756.35,256.80 758.60,258.60 760.85,256.80 760.42,259.65" fill="#1850a8" stroke="#06143a" stroke-width="0.8"/>
<rect x="760.80" y="254.70" width="5.4" height="5.4" rx="0.6" fill="#e3c534" stroke="#6b5c14" stroke-width="0.8"/>
<circle cx="760.2" cy="254" r="3.1" fill="#1a9bdc" stroke="#0b4a6e" stroke-width="0.8"/>
<polygon points="749.80,247.60 752.70,253.50 746.90,253.50" fill="#d9564c" stroke="#5a1c18" stroke-width="0.8" stroke-linejoin="round"/>
<polygon points="761.80,240.30 763.00,242.94 765.89,243.27 763.75,245.23 764.33,248.08 761.80,246.65 759.27,248.08 759.85,245.23 757.71,243.27 760.60,242.94" fill="#2f9a6c" stroke="#143f2c" stroke-width="0.8"/>
<rect x="753.30" y="237.80" width="5.4" height="5.4" rx="0.6" fill="#43cbd9" stroke="#14606c" stroke-width="0.8"/>
<polygon points="757.00,242.10 760.30,245.70 757.00,249.30 753.70,245.70" fill="#cc2a78" stroke="#4a0a2a" stroke-width="0.8" stroke-linejoin="round"/>
<polygon points="752.60,233.30 753.80,235.94 756.69,236.27 754.55,238.23 755.13,241.08 752.60,239.65 750.07,241.08 750.65,238.23 748.51,236.27 751.40,235.94" fill="#f8a7c6" stroke="#5e3a4a" stroke-width="0.8"/>
<polygon points="810.40,256.90 807.72,257.95 808.15,260.80 805.90,259.00 803.65,260.80 804.08,257.95 801.40,256.90 804.08,255.85 803.65,253.00 805.90,254.80 808.15,253.00 807.72,255.85" fill="#1850a8" stroke="#06143a" stroke-width="0.8"/>
<circle cx="808.1" cy="254.9" r="3.1" fill="#1a9bdc" stroke="#0b4a6e" stroke-width="0.8"/>
<rect x="800.30" y="258.00" width="5.4" height="5.4" rx="0.6" fill="#43cbd9" stroke="#14606c" stroke-width="0.8"/>
<polygon points="797.50,251.50 800.40,257.40 794.60,257.40" fill="#d9564c" stroke="#5a1c18" stroke-width="0.8" stroke-linejoin="round"/>
<circle cx="798.8" cy="250.7" r="3.1" fill="#e2da1e" stroke="#4c4a0e" stroke-width="0.8"/>
<polygon points="805.00,247.10 808.30,250.70 805.00,254.30 801.70,250.70" fill="#cc2a78" stroke="#4a0a2a" stroke-width="0.8" stroke-linejoin="round"/>
<rect x="807.90" y="244.10" width="5.4" height="5.4" rx="0.6" fill="#e3c534" stroke="#6b5c14" stroke-width="0.8"/>
<polygon points="809.20,236.50 810.40,239.14 813.29,239.47 811.15,241.43 811.73,244.28 809.20,242.85 806.67,244.28 807.25,241.43 805.11,239.47 808.00,239.14" fill="#2f9a6c" stroke="#143f2c" stroke-width="0.8"/>
<polygon points="800.40,235.00 801.60,237.64 804.49,237.97 802.35,239.93 802.93,242.78 800.40,241.35 797.87,242.78 798.45,239.93 796.31,237.97 799.20,237.64" fill="#f8a7c6" stroke="#5e3a4a" stroke-width="0.8"/>
<polygon points="847.60,333.70 848.80,336.34 851.69,336.67 849.55,338.63 850.13,341.48 847.60,340.05 845.07,341.48 845.65,338.63 843.51,336.67 846.40,336.34" fill="#f8a7c6" stroke="#5e3a4a" stroke-width="0.8"/>
<rect x="856.20" y="328.30" width="5.4" height="5.4" rx="0.6" fill="#e3c534" stroke="#6b5c14" stroke-width="0.8"/>
<polygon points="856.30,329.00 857.50,331.64 860.39,331.97 858.25,333.93 858.83,336.78 856.30,335.35 853.77,336.78 854.35,333.93 852.21,331.97 855.10,331.64" fill="#2f9a6c" stroke="#143f2c" stroke-width="0.8"/>
<circle cx="846.3" cy="328.3" r="3.1" fill="#e2da1e" stroke="#4c4a0e" stroke-width="0.8"/>
<polygon points="844.80,314.50 847.70,320.40 841.90,320.40" fill="#d9564c" stroke="#5a1c18" stroke-width="0.8" stroke-linejoin="round"/>
<polygon points="852.20,303.90 855.50,307.50 852.20,311.10 848.90,307.50" fill="#cc2a78" stroke="#4a0a2a" stroke-width="0.8" stroke-linejoin="round"/>
<polygon points="858.80,298.60 856.12,299.65 856.55,302.50 854.30,300.70 852.05,302.50 852.48,299.65 849.80,298.60 852.48,297.55 852.05,294.70 854.30,296.50 856.55,294.70 856.12,297.55" fill="#1850a8" stroke="#06143a" stroke-width="0.8"/>
<rect x="848.00" y="297.60" width="5.4" height="5.4" rx="0.6" fill="#43cbd9" stroke="#14606c" stroke-width="0.8"/>
<circle cx="854.8" cy="278.5" r="3.1" fill="#1a9bdc" stroke="#0b4a6e" stroke-width="0.8"/>
<polygon points="895.00,376.50 896.20,379.14 899.09,379.47 896.95,381.43 897.53,384.28 895.00,382.85 892.47,384.28 893.05,381.43 890.91,379.47 893.80,379.14" fill="#f8a7c6" stroke="#5e3a4a" stroke-width="0.8"/>
<polygon points="903.80,359.20 905.00,361.84 907.89,362.17 905.75,364.13 906.33,366.98 903.80,365.55 901.27,366.98 901.85,364.13 899.71,362.17 902.60,361.84" fill="#2f9a6c" stroke="#143f2c" stroke-width="0.8"/>
<circle cx="893.7" cy="351.5" r="3.1" fill="#e2da1e" stroke="#4c4a0e" stroke-width="0.8"/>
<rect x="902.40" y="348.80" width="5.4" height="5.4" rx="0.6" fill="#e3c534" stroke="#6b5c14" stroke-width="0.8"/>
<circle cx="903.2" cy="314.9" r="3.1" fill="#1a9bdc" stroke="#0b4a6e" stroke-width="0.8"/>
<polygon points="905.20,317.90 902.52,318.95 902.95,321.80 900.70,320.00 898.45,321.80 898.88,318.95 896.20,317.90 898.88,316.85 898.45,314.00 900.70,315.80 902.95,314.00 902.52,316.85" fill="#1850a8" stroke="#06143a" stroke-width="0.8"/>
<polygon points="899.10,308.80 902.40,312.40 899.10,316.00 895.80,312.40" fill="#cc2a78" stroke="#4a0a2a" stroke-width="0.8" stroke-linejoin="round"/>
<polygon points="892.00,303.90 894.90,309.80 889.10,309.80" fill="#d9564c" stroke="#5a1c18" stroke-width="0.8" stroke-linejoin="round"/>
<rect x="894.90" y="301.80" width="5.4" height="5.4" rx="0.6" fill="#43cbd9" stroke="#14606c" stroke-width="0.8"/>
<polygon points="942.30,339.00 943.50,341.64 946.39,341.97 944.25,343.93 944.83,346.78 942.30,345.35 939.77,346.78 940.35,343.93 938.21,341.97 941.10,341.64" fill="#f8a7c6" stroke="#5e3a4a" stroke-width="0.8"/>
<rect x="950.00" y="329.10" width="5.4" height="5.4" rx="0.6" fill="#e3c534" stroke="#6b5c14" stroke-width="0.8"/>
<polygon points="950.70,331.50 951.90,334.14 954.79,334.47 952.65,336.43 953.23,339.28 950.70,337.85 948.17,339.28 948.75,336.43 946.61,334.47 949.50,334.14" fill="#2f9a6c" stroke="#143f2c" stroke-width="0.8"/>
<circle cx="941.1" cy="311.7" r="3.1" fill="#e2da1e" stroke="#4c4a0e" stroke-width="0.8"/>
<polygon points="947.00,306.80 950.30,310.40 947.00,314.00 943.70,310.40" fill="#cc2a78" stroke="#4a0a2a" stroke-width="0.8" stroke-linejoin="round"/>
<polygon points="939.40,300.30 942.30,306.20 936.50,306.20" fill="#d9564c" stroke="#5a1c18" stroke-width="0.8" stroke-linejoin="round"/>
<polygon points="953.50,301.10 950.82,302.15 951.25,305.00 949.00,303.20 946.75,305.00 947.18,302.15 944.50,301.10 947.18,300.05 946.75,297.20 949.00,299.00 951.25,297.20 950.82,300.05" fill="#1850a8" stroke="#06143a" stroke-width="0.8"/>
<rect x="942.60" y="302.10" width="5.4" height="5.4" rx="0.6" fill="#43cbd9" stroke="#14606c" stroke-width="0.8"/>
<circle cx="949.8" cy="295.8" r="3.1" fill="#1a9bdc" stroke="#0b4a6e" stroke-width="0.8"/>
<polygon points="990.00,341.00 991.20,343.64 994.09,343.97 991.95,345.93 992.53,348.78 990.00,347.35 987.47,348.78 988.05,345.93 985.91,343.97 988.80,343.64" fill="#f8a7c6" stroke="#5e3a4a" stroke-width="0.8"/>
<rect x="997.30" y="323.90" width="5.4" height="5.4" rx="0.6" fill="#e3c534" stroke="#6b5c14" stroke-width="0.8"/>
<polygon points="998.40,327.60 999.60,330.24 1002.49,330.57 1000.35,332.53 1000.93,335.38 998.40,333.95 995.87,335.38 996.45,332.53 994.31,330.57 997.20,330.24" fill="#2f9a6c" stroke="#143f2c" stroke-width="0.8"/>
<polygon points="995.00,304.20 998.30,307.80 995.00,311.40 991.70,307.80" fill="#cc2a78" stroke="#4a0a2a" stroke-width="0.8" stroke-linejoin="round"/>
<polygon points="987.00,300.80 989.90,306.70 984.10,306.70" fill="#d9564c" stroke="#5a1c18" stroke-width="0.8" stroke-linejoin="round"/>
<circle cx="988.7" cy="310" r="3.1" fill="#e2da1e" stroke="#4c4a0e" stroke-width="0.8"/>
<rect x="990.70" y="304.80" width="5.4" height="5.4" rx="0.6" fill="#43cbd9" stroke="#14606c" stroke-width="0.8"/>
<polygon points="1000.40,299.80 997.72,300.85 998.15,303.70 995.90,301.90 993.65,303.70 994.08,300.85 991.40,299.80 994.08,298.75 993.65,295.90 995.90,297.70 998.15,295.90 997.72,298.75" fill="#1850a8" stroke="#06143a" stroke-width="0.8"/>
<circle cx="997.2" cy="293.6" r="3.1" fill="#1a9bdc" stroke="#0b4a6e" stroke-width="0.8"/>
<polygon points="1037.20,334.10 1038.40,336.74 1041.29,337.07 1039.15,339.03 1039.73,341.88 1037.20,340.45 1034.67,341.88 1035.25,339.03 1033.11,337.07 1036.00,336.74" fill="#f8a7c6" stroke="#5e3a4a" stroke-width="0.8"/>
<polygon points="1045.70,322.40 1046.90,325.04 1049.79,325.37 1047.65,327.33 1048.23,330.18 1045.70,328.75 1043.17,330.18 1043.75,327.33 1041.61,325.37 1044.50,325.04" fill="#2f9a6c" stroke="#143f2c" stroke-width="0.8"/>
<rect x="1045.00" y="312.50" width="5.4" height="5.4" rx="0.6" fill="#e3c534" stroke="#6b5c14" stroke-width="0.8"/>
<circle cx="1035.7" cy="313.8" r="3.1" fill="#e2da1e" stroke="#4c4a0e" stroke-width="0.8"/>
<polygon points="1047.70,311.00 1045.02,312.05 1045.45,314.90 1043.20,313.10 1040.95,314.90 1041.38,312.05 1038.70,311.00 1041.38,309.95 1040.95,307.10 1043.20,308.90 1045.45,307.10 1045.02,309.95" fill="#1850a8" stroke="#06143a" stroke-width="0.8"/>
<polygon points="1034.30,299.20 1037.20,305.10 1031.40,305.10" fill="#d9564c" stroke="#5a1c18" stroke-width="0.8" stroke-linejoin="round"/>
<polygon points="1041.50,301.90 1044.80,305.50 1041.50,309.10 1038.20,305.50" fill="#cc2a78" stroke="#4a0a2a" stroke-width="0.8" stroke-linejoin="round"/>
<rect x="1037.50" y="291.00" width="5.4" height="5.4" rx="0.6" fill="#43cbd9" stroke="#14606c" stroke-width="0.8"/>
<circle cx="1044.7" cy="287.5" r="3.1" fill="#1a9bdc" stroke="#0b4a6e" stroke-width="0.8"/>
<polygon points="1095.00,290.70 1092.32,291.75 1092.75,294.60 1090.50,292.80 1088.25,294.60 1088.68,291.75 1086.00,290.70 1088.68,289.65 1088.25,286.80 1090.50,288.60 1092.75,286.80 1092.32,289.65" fill="#1850a8" stroke="#06143a" stroke-width="0.8"/>
<polygon points="1089.10,282.90 1092.40,286.50 1089.10,290.10 1085.80,286.50" fill="#cc2a78" stroke="#4a0a2a" stroke-width="0.8" stroke-linejoin="round"/>
<polygon points="1081.70,275.60 1084.60,281.50 1078.80,281.50" fill="#d9564c" stroke="#5a1c18" stroke-width="0.8" stroke-linejoin="round"/>
<rect x="1084.70" y="269.60" width="5.4" height="5.4" rx="0.6" fill="#43cbd9" stroke="#14606c" stroke-width="0.8"/>
<polygon points="1084.60,252.90 1085.80,255.54 1088.69,255.87 1086.55,257.83 1087.13,260.68 1084.60,259.25 1082.07,260.68 1082.65,257.83 1080.51,255.87 1083.40,255.54" fill="#f8a7c6" stroke="#5e3a4a" stroke-width="0.8"/>
<rect x="1092.40" y="251.20" width="5.4" height="5.4" rx="0.6" fill="#e3c534" stroke="#6b5c14" stroke-width="0.8"/>
<polygon points="1093.00,252.00 1094.20,254.64 1097.09,254.97 1094.95,256.93 1095.53,259.78 1093.00,258.35 1090.47,259.78 1091.05,256.93 1088.91,254.97 1091.80,254.64" fill="#2f9a6c" stroke="#143f2c" stroke-width="0.8"/>
<circle cx="1083.4" cy="259.9" r="3.1" fill="#e2da1e" stroke="#4c4a0e" stroke-width="0.8"/>
<circle cx="1092.1" cy="260.6" r="3.1" fill="#1a9bdc" stroke="#0b4a6e" stroke-width="0.8"/>
<polygon points="1136.50,295.70 1139.80,299.30 1136.50,302.90 1133.20,299.30" fill="#cc2a78" stroke="#4a0a2a" stroke-width="0.8" stroke-linejoin="round"/>
<polygon points="1129.50,270.60 1132.40,276.50 1126.60,276.50" fill="#d9564c" stroke="#5a1c18" stroke-width="0.8" stroke-linejoin="round"/>
<polygon points="1143.20,264.90 1140.52,265.95 1140.95,268.80 1138.70,267.00 1136.45,268.80 1136.88,265.95 1134.20,264.90 1136.88,263.85 1136.45,261.00 1138.70,262.80 1140.95,261.00 1140.52,263.85" fill="#1850a8" stroke="#06143a" stroke-width="0.8"/>
<rect x="1132.30" y="263.90" width="5.4" height="5.4" rx="0.6" fill="#43cbd9" stroke="#14606c" stroke-width="0.8"/>
<circle cx="1139.5" cy="255.5" r="3.1" fill="#1a9bdc" stroke="#0b4a6e" stroke-width="0.8"/>
<rect x="1139.30" y="236.60" width="5.4" height="5.4" rx="0.6" fill="#e3c534" stroke="#6b5c14" stroke-width="0.8"/>
<polygon points="1140.70,242.00 1141.90,244.64 1144.79,244.97 1142.65,246.93 1143.23,249.78 1140.70,248.35 1138.17,249.78 1138.75,246.93 1136.61,244.97 1139.50,244.64" fill="#2f9a6c" stroke="#143f2c" stroke-width="0.8"/>
<circle cx="1131" cy="246.5" r="3.1" fill="#e2da1e" stroke="#4c4a0e" stroke-width="0.8"/>
<polygon points="1132.00,232.80 1133.20,235.44 1136.09,235.77 1133.95,237.73 1134.53,240.58 1132.00,239.15 1129.47,240.58 1130.05,237.73 1127.91,235.77 1130.80,235.44" fill="#f8a7c6" stroke="#5e3a4a" stroke-width="0.8"/>
</g>
<g id="perf">
<clipPath id="cp0"><rect x="203.9" y="470" width="20.4" height="215"/></clipPath>
<line x1="54.3" x2="67.7" y1="476.1" y2="476.1" stroke="#e4e4e4" stroke-width="1"/>
<line x1="190.7" x2="204.3" y1="476.1" y2="476.1" stroke="#e4e4e4" stroke-width="1"/>
<text class="tk" x="207.1" y="478.2" clip-path="url(#cp0)">9.6</text>
<text class="tk" x="51.8" y="478.2" text-anchor="end">0</text>
<line x1="54.3" x2="67.7" y1="525.7" y2="525.7" stroke="#e4e4e4" stroke-width="1"/>
<line x1="190.7" x2="204.3" y1="525.7" y2="525.7" stroke="#e4e4e4" stroke-width="1"/>
<text class="tk" x="207.1" y="527.8" clip-path="url(#cp0)">5.6</text>
<text class="tk" x="51.8" y="527.8" text-anchor="end">25</text>
<line x1="54.3" x2="67.7" y1="575.2" y2="575.2" stroke="#e4e4e4" stroke-width="1"/>
<line x1="190.7" x2="204.3" y1="575.2" y2="575.2" stroke="#e4e4e4" stroke-width="1"/>
<text class="tk" x="207.1" y="577.4" clip-path="url(#cp0)">4.82</text>
<text class="tk" x="51.8" y="577.4" text-anchor="end">50</text>
<line x1="54.3" x2="67.7" y1="624.8" y2="624.8" stroke="#e4e4e4" stroke-width="1"/>
<line x1="190.7" x2="204.3" y1="624.8" y2="624.8" stroke="#e4e4e4" stroke-width="1"/>
<text class="tk" x="207.1" y="626.9" clip-path="url(#cp0)">3.8</text>
<text class="tk" x="51.8" y="626.9" text-anchor="end">75</text>
<line x1="54.3" x2="67.7" y1="674.4" y2="674.4" stroke="#e4e4e4" stroke-width="1"/>
<line x1="190.7" x2="204.3" y1="674.4" y2="674.4" stroke="#e4e4e4" stroke-width="1"/>
<text class="tk" x="207.1" y="676.5" clip-path="url(#cp0)">-0.8</text>
<text class="tk" x="51.8" y="676.5" text-anchor="end">100</text>
<rect x="69.5" y="476.1" width="119.4" height="198.3" fill="#b6b6b6"/>
<rect x="69.5" y="525.7" width="119.4" height="99.2" fill="#6b6b6b"/>
<line x1="69.5" x2="188.9" y1="575.2" y2="575.2" stroke="#3c3c3c" stroke-width="1"/>
<rect x="69.5" y="476.1" width="119.4" height="198.3" fill="none" stroke="#7e7e7e" stroke-width="0.9"/>
<text class="xl" x="129.2" y="684.6" text-anchor="middle" fill="#111">1M %</text>
<clipPath id="cp1"><rect x="391.79999999999995" y="470" width="20.4" height="215"/></clipPath>
<line x1="242.2" x2="255.6" y1="476.1" y2="476.1" stroke="#e4e4e4" stroke-width="1"/>
<line x1="378.6" x2="392.2" y1="476.1" y2="476.1" stroke="#e4e4e4" stroke-width="1"/>
<text class="tk" x="395.0" y="478.2" clip-path="url(#cp1)">23.6</text>
<line x1="242.2" x2="255.6" y1="525.7" y2="525.7" stroke="#e4e4e4" stroke-width="1"/>
<line x1="378.6" x2="392.2" y1="525.7" y2="525.7" stroke="#e4e4e4" stroke-width="1"/>
<text class="tk" x="395.0" y="527.8" clip-path="url(#cp1)">12.1</text>
<line x1="242.2" x2="255.6" y1="575.2" y2="575.2" stroke="#e4e4e4" stroke-width="1"/>
<line x1="378.6" x2="392.2" y1="575.2" y2="575.2" stroke="#e4e4e4" stroke-width="1"/>
<text class="tk" x="395.0" y="577.4" clip-path="url(#cp1)">9.62</text>
<line x1="242.2" x2="255.6" y1="624.8" y2="624.8" stroke="#e4e4e4" stroke-width="1"/>
<line x1="378.6" x2="392.2" y1="624.8" y2="624.8" stroke="#e4e4e4" stroke-width="1"/>
<text class="tk" x="395.0" y="626.9" clip-path="url(#cp1)">7.6</text>
<line x1="242.2" x2="255.6" y1="674.4" y2="674.4" stroke="#e4e4e4" stroke-width="1"/>
<line x1="378.6" x2="392.2" y1="674.4" y2="674.4" stroke="#e4e4e4" stroke-width="1"/>
<text class="tk" x="395.0" y="676.5" clip-path="url(#cp1)">-2.3</text>
<rect x="257.4" y="476.1" width="119.4" height="198.3" fill="#b6b6b6"/>
<rect x="257.4" y="525.7" width="119.4" height="99.2" fill="#6b6b6b"/>
<line x1="257.4" x2="376.79999999999995" y1="575.2" y2="575.2" stroke="#3c3c3c" stroke-width="1"/>
<rect x="257.4" y="476.1" width="119.4" height="198.3" fill="none" stroke="#7e7e7e" stroke-width="0.9"/>
<text class="xl" x="317.1" y="684.6" text-anchor="middle" fill="#111">3M %</text>
<clipPath id="cp2"><rect x="579.5" y="470" width="20.4" height="215"/></clipPath>
<line x1="429.9" x2="443.3" y1="476.1" y2="476.1" stroke="#e4e4e4" stroke-width="1"/>
<line x1="566.3" x2="579.9" y1="476.1" y2="476.1" stroke="#e4e4e4" stroke-width="1"/>
<text class="tk" x="582.7" y="478.2" clip-path="url(#cp2)">10.8</text>
<line x1="429.9" x2="443.3" y1="525.7" y2="525.7" stroke="#e4e4e4" stroke-width="1"/>
<line x1="566.3" x2="579.9" y1="525.7" y2="525.7" stroke="#e4e4e4" stroke-width="1"/>
<text class="tk" x="582.7" y="527.8" clip-path="url(#cp2)">7.3</text>
<line x1="429.9" x2="443.3" y1="575.2" y2="575.2" stroke="#e4e4e4" stroke-width="1"/>
<line x1="566.3" x2="579.9" y1="575.2" y2="575.2" stroke="#e4e4e4" stroke-width="1"/>
<text class="tk" x="582.7" y="577.4" clip-path="url(#cp2)">5.91</text>
<line x1="429.9" x2="443.3" y1="624.8" y2="624.8" stroke="#e4e4e4" stroke-width="1"/>
<line x1="566.3" x2="579.9" y1="624.8" y2="624.8" stroke="#e4e4e4" stroke-width="1"/>
<text class="tk" x="582.7" y="626.9" clip-path="url(#cp2)">4.3</text>
<line x1="429.9" x2="443.3" y1="674.4" y2="674.4" stroke="#e4e4e4" stroke-width="1"/>
<line x1="566.3" x2="579.9" y1="674.4" y2="674.4" stroke="#e4e4e4" stroke-width="1"/>
<text class="tk" x="582.7" y="676.5" clip-path="url(#cp2)">-5.9</text>
<rect x="445.1" y="476.1" width="119.4" height="198.3" fill="#b6b6b6"/>
<rect x="445.1" y="525.7" width="119.4" height="99.2" fill="#6b6b6b"/>
<line x1="445.1" x2="564.5" y1="575.2" y2="575.2" stroke="#3c3c3c" stroke-width="1"/>
<rect x="445.1" y="476.1" width="119.4" height="198.3" fill="none" stroke="#7e7e7e" stroke-width="0.9"/>
<text class="xl" x="504.8" y="684.6" text-anchor="middle" fill="#111">6M %</text>
<clipPath id="cp3"><rect x="767.4" y="470" width="20.4" height="215"/></clipPath>
<line x1="617.8" x2="631.2" y1="476.1" y2="476.1" stroke="#e4e4e4" stroke-width="1"/>
<line x1="754.2" x2="767.8" y1="476.1" y2="476.1" stroke="#e4e4e4" stroke-width="1"/>
<text class="tk" x="770.6" y="478.2" clip-path="url(#cp3)">32.7</text>
<line x1="617.8" x2="631.2" y1="525.7" y2="525.7" stroke="#e4e4e4" stroke-width="1"/>
<line x1="754.2" x2="767.8" y1="525.7" y2="525.7" stroke="#e4e4e4" stroke-width="1"/>
<text class="tk" x="770.6" y="527.8" clip-path="url(#cp3)">15.7</text>
<line x1="617.8" x2="631.2" y1="575.2" y2="575.2" stroke="#e4e4e4" stroke-width="1"/>
<line x1="754.2" x2="767.8" y1="575.2" y2="575.2" stroke="#e4e4e4" stroke-width="1"/>
<text class="tk" x="770.6" y="577.4" clip-path="url(#cp3)">13.58</text>
<line x1="617.8" x2="631.2" y1="624.8" y2="624.8" stroke="#e4e4e4" stroke-width="1"/>
<line x1="754.2" x2="767.8" y1="624.8" y2="624.8" stroke="#e4e4e4" stroke-width="1"/>
<text class="tk" x="770.6" y="626.9" clip-path="url(#cp3)">10.9</text>
<line x1="617.8" x2="631.2" y1="674.4" y2="674.4" stroke="#e4e4e4" stroke-width="1"/>
<line x1="754.2" x2="767.8" y1="674.4" y2="674.4" stroke="#e4e4e4" stroke-width="1"/>
<text class="tk" x="770.6" y="676.5" clip-path="url(#cp3)">2.7</text>
<rect x="633" y="476.1" width="119.4" height="198.3" fill="#b6b6b6"/>
<rect x="633" y="525.7" width="119.4" height="99.2" fill="#6b6b6b"/>
<line x1="633" x2="752.4" y1="575.2" y2="575.2" stroke="#3c3c3c" stroke-width="1"/>
<rect x="633" y="476.1" width="119.4" height="198.3" fill="none" stroke="#7e7e7e" stroke-width="0.9"/>
<text class="xl" x="692.7" y="684.6" text-anchor="middle" fill="#111">1 Yr %</text>
<clipPath id="cp4"><rect x="955.6999999999999" y="470" width="20.4" height="215"/></clipPath>
<line x1="806.1" x2="819.5" y1="476.1" y2="476.1" stroke="#e4e4e4" stroke-width="1"/>
<line x1="942.5" x2="956.1" y1="476.1" y2="476.1" stroke="#e4e4e4" stroke-width="1"/>
<text class="tk" x="958.9" y="478.2" clip-path="url(#cp4)">30</text>
<line x1="806.1" x2="819.5" y1="525.7" y2="525.7" stroke="#e4e4e4" stroke-width="1"/>
<line x1="942.5" x2="956.1" y1="525.7" y2="525.7" stroke="#e4e4e4" stroke-width="1"/>
<text class="tk" x="958.9" y="527.8" clip-path="url(#cp4)">20.5</text>
<line x1="806.1" x2="819.5" y1="575.2" y2="575.2" stroke="#e4e4e4" stroke-width="1"/>
<line x1="942.5" x2="956.1" y1="575.2" y2="575.2" stroke="#e4e4e4" stroke-width="1"/>
<text class="tk" x="958.9" y="577.4" clip-path="url(#cp4)">18.42</text>
<line x1="806.1" x2="819.5" y1="624.8" y2="624.8" stroke="#e4e4e4" stroke-width="1"/>
<line x1="942.5" x2="956.1" y1="624.8" y2="624.8" stroke="#e4e4e4" stroke-width="1"/>
<text class="tk" x="958.9" y="626.9" clip-path="url(#cp4)">15.4</text>
<line x1="806.1" x2="819.5" y1="674.4" y2="674.4" stroke="#e4e4e4" stroke-width="1"/>
<line x1="942.5" x2="956.1" y1="674.4" y2="674.4" stroke="#e4e4e4" stroke-width="1"/>
<text class="tk" x="958.9" y="676.5" clip-path="url(#cp4)">6.1</text>
<rect x="821.3" y="476.1" width="119.4" height="198.3" fill="#b6b6b6"/>
<rect x="821.3" y="525.7" width="119.4" height="99.2" fill="#6b6b6b"/>
<line x1="821.3" x2="940.6999999999999" y1="575.2" y2="575.2" stroke="#3c3c3c" stroke-width="1"/>
<rect x="821.3" y="476.1" width="119.4" height="198.3" fill="none" stroke="#7e7e7e" stroke-width="0.9"/>
<text class="xl" x="881.0" y="684.6" text-anchor="middle" fill="#111">3 Yrs % (ann.)</text>
<clipPath id="cp5"><rect x="1143.9" y="470" width="20.4" height="215"/></clipPath>
<line x1="994.3" x2="1007.7" y1="476.1" y2="476.1" stroke="#e4e4e4" stroke-width="1"/>
<line x1="1130.7" x2="1144.3" y1="476.1" y2="476.1" stroke="#e4e4e4" stroke-width="1"/>
<text class="tk" x="1147.1" y="478.2" clip-path="url(#cp5)">21.7</text>
<line x1="994.3" x2="1007.7" y1="525.7" y2="525.7" stroke="#e4e4e4" stroke-width="1"/>
<line x1="1130.7" x2="1144.3" y1="525.7" y2="525.7" stroke="#e4e4e4" stroke-width="1"/>
<text class="tk" x="1147.1" y="527.8" clip-path="url(#cp5)">17.2</text>
<line x1="994.3" x2="1007.7" y1="575.2" y2="575.2" stroke="#e4e4e4" stroke-width="1"/>
<line x1="1130.7" x2="1144.3" y1="575.2" y2="575.2" stroke="#e4e4e4" stroke-width="1"/>
<text class="tk" x="1147.1" y="577.4" clip-path="url(#cp5)">15.86</text>
<line x1="994.3" x2="1007.7" y1="624.8" y2="624.8" stroke="#e4e4e4" stroke-width="1"/>
<line x1="1130.7" x2="1144.3" y1="624.8" y2="624.8" stroke="#e4e4e4" stroke-width="1"/>
<text class="tk" x="1147.1" y="626.9" clip-path="url(#cp5)">14.1</text>
<line x1="994.3" x2="1007.7" y1="674.4" y2="674.4" stroke="#e4e4e4" stroke-width="1"/>
<line x1="1130.7" x2="1144.3" y1="674.4" y2="674.4" stroke="#e4e4e4" stroke-width="1"/>
<text class="tk" x="1147.1" y="676.5" clip-path="url(#cp5)">5.6</text>
<rect x="1009.5" y="476.1" width="119.4" height="198.3" fill="#b6b6b6"/>
<rect x="1009.5" y="525.7" width="119.4" height="99.2" fill="#6b6b6b"/>
<line x1="1009.5" x2="1128.9" y1="575.2" y2="575.2" stroke="#3c3c3c" stroke-width="1"/>
<rect x="1009.5" y="476.1" width="119.4" height="198.3" fill="none" stroke="#7e7e7e" stroke-width="0.9"/>
<text class="xl" x="1069.2" y="684.6" text-anchor="middle" fill="#111">5 Yrs % (ann.)</text>
</g>
<g id="pmarkers" transform="scale(1)">
<polygon points="127.20,669.20 128.40,671.84 131.29,672.17 129.15,674.13 129.73,676.98 127.20,675.55 124.67,676.98 125.25,674.13 123.11,672.17 126.00,671.84" fill="#f8a7c6" stroke="#5e3a4a" stroke-width="0.8"/>
<polygon points="135.80,670.40 133.12,671.45 133.55,674.30 131.30,672.50 129.05,674.30 129.48,671.45 126.80,670.40 129.48,669.35 129.05,666.50 131.30,668.30 133.55,666.50 133.12,669.35" fill="#1850a8" stroke="#06143a" stroke-width="0.8"/>
<polygon points="133.00,667.50 134.20,670.14 137.09,670.47 134.95,672.43 135.53,675.28 133.00,673.85 130.47,675.28 131.05,672.43 128.91,670.47 131.80,670.14" fill="#2f9a6c" stroke="#143f2c" stroke-width="0.8"/>
<polygon points="130.00,664.20 133.30,667.80 130.00,671.40 126.70,667.80" fill="#cc2a78" stroke="#4a0a2a" stroke-width="0.8" stroke-linejoin="round"/>
<rect x="130.30" y="658.10" width="5.4" height="5.4" rx="0.6" fill="#e3c534" stroke="#6b5c14" stroke-width="0.8"/>
<circle cx="126.3" cy="662" r="3.1" fill="#e2da1e" stroke="#4c4a0e" stroke-width="0.8"/>
<polygon points="128.20,651.00 131.10,656.90 125.30,656.90" fill="#f2b41f" stroke="#86600f" stroke-width="0.8" stroke-linejoin="round"/>
<circle cx="131" cy="642.4" r="3.1" fill="#1a9bdc" stroke="#0b4a6e" stroke-width="0.8"/>
<rect x="126.50" y="642.20" width="5.4" height="5.4" rx="0.6" fill="#43cbd9" stroke="#14606c" stroke-width="0.8"/>
<polygon points="126.00,630.60 128.90,636.50 123.10,636.50" fill="#d9564c" stroke="#5a1c18" stroke-width="0.8" stroke-linejoin="round"/>
<polygon points="315.10,669.20 316.30,671.84 319.19,672.17 317.05,674.13 317.63,676.98 315.10,675.55 312.57,676.98 313.15,674.13 311.01,672.17 313.90,671.84" fill="#f8a7c6" stroke="#5e3a4a" stroke-width="0.8"/>
<polygon points="321.30,667.20 322.50,669.84 325.39,670.17 323.25,672.13 323.83,674.98 321.30,673.55 318.77,674.98 319.35,672.13 317.21,670.17 320.10,669.84" fill="#2f9a6c" stroke="#143f2c" stroke-width="0.8"/>
<polygon points="325.00,668.70 322.32,669.75 322.75,672.60 320.50,670.80 318.25,672.60 318.68,669.75 316.00,668.70 318.68,667.65 318.25,664.80 320.50,666.60 322.75,664.80 322.32,667.65" fill="#1850a8" stroke="#06143a" stroke-width="0.8"/>
<polygon points="318.80,663.40 322.10,667.00 318.80,670.60 315.50,667.00" fill="#cc2a78" stroke="#4a0a2a" stroke-width="0.8" stroke-linejoin="round"/>
<circle cx="314.6" cy="667.9" r="3.1" fill="#e2da1e" stroke="#4c4a0e" stroke-width="0.8"/>
<rect x="318.30" y="659.30" width="5.4" height="5.4" rx="0.6" fill="#e3c534" stroke="#6b5c14" stroke-width="0.8"/>
<rect x="314.70" y="644.60" width="5.4" height="5.4" rx="0.6" fill="#43cbd9" stroke="#14606c" stroke-width="0.8"/>
<polygon points="314.30,643.90 317.20,649.80 311.40,649.80" fill="#d9564c" stroke="#5a1c18" stroke-width="0.8" stroke-linejoin="round"/>
<circle cx="319.3" cy="636.6" r="3.1" fill="#1a9bdc" stroke="#0b4a6e" stroke-width="0.8"/>
<polygon points="504.10,658.50 507.00,664.40 501.20,664.40" fill="#f2b41f" stroke="#86600f" stroke-width="0.8" stroke-linejoin="round"/>
<polygon points="510.50,651.80 507.82,652.85 508.25,655.70 506.00,653.90 503.75,655.70 504.18,652.85 501.50,651.80 504.18,650.75 503.75,647.90 506.00,649.70 508.25,647.90 507.82,650.75" fill="#1850a8" stroke="#06143a" stroke-width="0.8"/>
<polygon points="505.70,637.80 509.00,641.40 505.70,645.00 502.40,641.40" fill="#cc2a78" stroke="#4a0a2a" stroke-width="0.8" stroke-linejoin="round"/>
<polygon points="508.80,592.30 510.00,594.94 512.89,595.27 510.75,597.23 511.33,600.08 508.80,598.65 506.27,600.08 506.85,597.23 504.71,595.27 507.60,594.94" fill="#2f9a6c" stroke="#143f2c" stroke-width="0.8"/>
<polygon points="503.10,597.40 504.30,600.04 507.19,600.37 505.05,602.33 505.63,605.18 503.10,603.75 500.57,605.18 501.15,602.33 499.01,600.37 501.90,600.04" fill="#f8a7c6" stroke="#5e3a4a" stroke-width="0.8"/>
<polygon points="501.90,588.50 504.80,594.40 499.00,594.40" fill="#d9564c" stroke="#5a1c18" stroke-width="0.8" stroke-linejoin="round"/>
<circle cx="502.8" cy="556.7" r="3.1" fill="#e2da1e" stroke="#4c4a0e" stroke-width="0.8"/>
<rect x="506.40" y="522.10" width="5.4" height="5.4" rx="0.6" fill="#e3c534" stroke="#6b5c14" stroke-width="0.8"/>
<circle cx="507.2" cy="502.2" r="3.1" fill="#1a9bdc" stroke="#0b4a6e" stroke-width="0.8"/>
<rect x="502.30" y="507.00" width="5.4" height="5.4" rx="0.6" fill="#43cbd9" stroke="#14606c" stroke-width="0.8"/>
<polygon points="693.80,658.90 697.10,662.50 693.80,666.10 690.50,662.50" fill="#cc2a78" stroke="#4a0a2a" stroke-width="0.8" stroke-linejoin="round"/>
<polygon points="692.20,650.90 695.10,656.80 689.30,656.80" fill="#f2b41f" stroke="#86600f" stroke-width="0.8" stroke-linejoin="round"/>
<polygon points="698.60,640.70 695.92,641.75 696.35,644.60 694.10,642.80 691.85,644.60 692.28,641.75 689.60,640.70 692.28,639.65 691.85,636.80 694.10,638.60 696.35,636.80 695.92,639.65" fill="#1850a8" stroke="#06143a" stroke-width="0.8"/>
<polygon points="690.60,607.10 693.50,613.00 687.70,613.00" fill="#d9564c" stroke="#5a1c18" stroke-width="0.8" stroke-linejoin="round"/>
<rect x="690.40" y="603.70" width="5.4" height="5.4" rx="0.6" fill="#43cbd9" stroke="#14606c" stroke-width="0.8"/>
<polygon points="691.60,578.50 692.80,581.14 695.69,581.47 693.55,583.43 694.13,586.28 691.60,584.85 689.07,586.28 689.65,583.43 687.51,581.47 690.40,581.14" fill="#f8a7c6" stroke="#5e3a4a" stroke-width="0.8"/>
<polygon points="696.00,567.50 697.20,570.14 700.09,570.47 697.95,572.43 698.53,575.28 696.00,573.85 693.47,575.28 694.05,572.43 691.91,570.47 694.80,570.14" fill="#2f9a6c" stroke="#143f2c" stroke-width="0.8"/>
<rect x="694.50" y="556.20" width="5.4" height="5.4" rx="0.6" fill="#e3c534" stroke="#6b5c14" stroke-width="0.8"/>
<circle cx="690.9" cy="554.4" r="3.1" fill="#e2da1e" stroke="#4c4a0e" stroke-width="0.8"/>
<circle cx="695.4" cy="496.2" r="3.1" fill="#1a9bdc" stroke="#0b4a6e" stroke-width="0.8"/>
<polygon points="881.90,666.80 885.20,670.40 881.90,674.00 878.60,670.40" fill="#cc2a78" stroke="#4a0a2a" stroke-width="0.8" stroke-linejoin="round"/>
<polygon points="879.40,667.90 880.60,670.54 883.49,670.87 881.35,672.83 881.93,675.68 879.40,674.25 876.87,675.68 877.45,672.83 875.31,670.87 878.20,670.54" fill="#f8a7c6" stroke="#5e3a4a" stroke-width="0.8"/>
<polygon points="880.00,663.20 882.90,669.10 877.10,669.10" fill="#f2b41f" stroke="#86600f" stroke-width="0.8" stroke-linejoin="round"/>
<polygon points="883.50,650.00 884.70,652.64 887.59,652.97 885.45,654.93 886.03,657.78 883.50,656.35 880.97,657.78 881.55,654.93 879.41,652.97 882.30,652.64" fill="#2f9a6c" stroke="#143f2c" stroke-width="0.8"/>
<polygon points="887.30,655.60 884.62,656.65 885.05,659.50 882.80,657.70 880.55,659.50 880.98,656.65 878.30,655.60 880.98,654.55 880.55,651.70 882.80,653.50 885.05,651.70 884.62,654.55" fill="#1850a8" stroke="#06143a" stroke-width="0.8"/>
<circle cx="883.1" cy="650.2" r="3.1" fill="#1a9bdc" stroke="#0b4a6e" stroke-width="0.8"/>
<circle cx="878.7" cy="647.7" r="3.1" fill="#e2da1e" stroke="#4c4a0e" stroke-width="0.8"/>
<polygon points="877.80,641.10 880.70,647.00 874.90,647.00" fill="#d9564c" stroke="#5a1c18" stroke-width="0.8" stroke-linejoin="round"/>
<rect x="882.00" y="641.20" width="5.4" height="5.4" rx="0.6" fill="#e3c534" stroke="#6b5c14" stroke-width="0.8"/>
<rect x="878.60" y="630.80" width="5.4" height="5.4" rx="0.6" fill="#43cbd9" stroke="#14606c" stroke-width="0.8"/>
<circle cx="1069" cy="667" r="3.1" fill="#1a9bdc" stroke="#0b4a6e" stroke-width="0.8"/>
<polygon points="1075.10,656.20 1072.42,657.25 1072.85,660.10 1070.60,658.30 1068.35,660.10 1068.78,657.25 1066.10,656.20 1068.78,655.15 1068.35,652.30 1070.60,654.10 1072.85,652.30 1072.42,655.15" fill="#1850a8" stroke="#06143a" stroke-width="0.8"/>
<polygon points="1072.50,658.50 1073.70,661.14 1076.59,661.47 1074.45,663.43 1075.03,666.28 1072.50,664.85 1069.97,666.28 1070.55,663.43 1068.41,661.47 1071.30,661.14" fill="#2f9a6c" stroke="#143f2c" stroke-width="0.8"/>
<polygon points="1068.10,656.90 1071.00,662.80 1065.20,662.80" fill="#f2b41f" stroke="#86600f" stroke-width="0.8" stroke-linejoin="round"/>
<polygon points="1070.30,662.00 1073.60,665.60 1070.30,669.20 1067.00,665.60" fill="#cc2a78" stroke="#4a0a2a" stroke-width="0.8" stroke-linejoin="round"/>
<polygon points="1067.20,665.10 1068.40,667.74 1071.29,668.07 1069.15,670.03 1069.73,672.88 1067.20,671.45 1064.67,672.88 1065.25,670.03 1063.11,668.07 1066.00,667.74" fill="#f8a7c6" stroke="#5e3a4a" stroke-width="0.8"/>
<rect x="1070.10" y="644.00" width="5.4" height="5.4" rx="0.6" fill="#e3c534" stroke="#6b5c14" stroke-width="0.8"/>
<circle cx="1066.5" cy="645.5" r="3.1" fill="#e2da1e" stroke="#4c4a0e" stroke-width="0.8"/>
<polygon points="1066.20,619.10 1069.10,625.00 1063.30,625.00" fill="#d9564c" stroke="#5a1c18" stroke-width="0.8" stroke-linejoin="round"/>
<rect x="1066.00" y="615.70" width="5.4" height="5.4" rx="0.6" fill="#43cbd9" stroke="#14606c" stroke-width="0.8"/>
</g>
<g id="anno" filter="url(#sh)">
<rect x="879.8" y="296" width="35.4" height="98.6" rx="6" ry="6" fill="#ffffff" fill-opacity="0.001" stroke="#e2141c" stroke-width="2.3"/>
<rect x="278.4" y="622" width="63.2" height="65.6" rx="6" ry="6" fill="#ffffff" fill-opacity="0.001" stroke="#e2141c" stroke-width="2.3"/>
<polygon points="878.1,333.6 337.7,596.6 337.8,589.1 316.9,615.0 349.8,614.1 344.3,609.9 879.1,335.6" fill="#fb0505"/>
</g>
</svg></body></html>
